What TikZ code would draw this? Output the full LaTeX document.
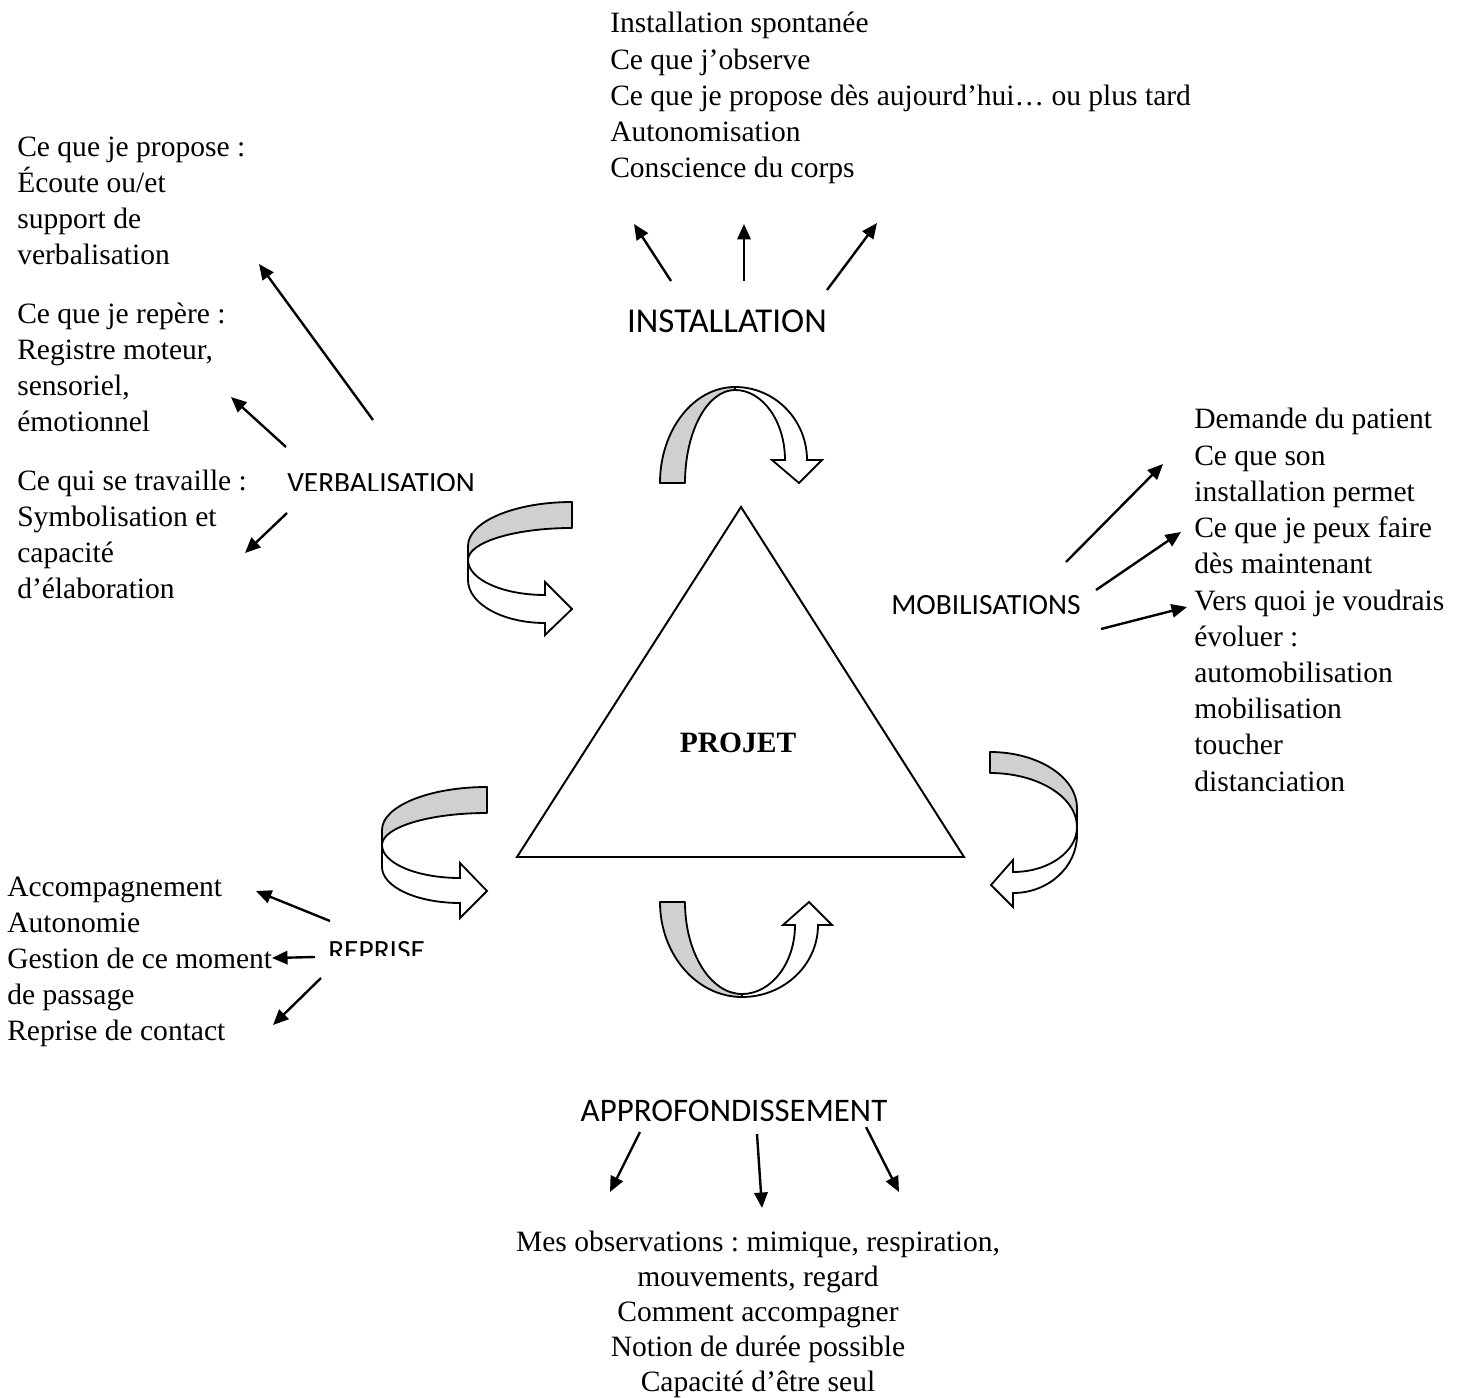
\documentclass[tikz,border=0pt]{standalone}
\usepackage{fontspec}
\setmainfont{Liberation Serif}
\newfontfamily\calibri{Carlito}
\usetikzlibrary{arrows.meta}
\definecolor{bandgray}{RGB}{208,208,208}
\frenchspacing
\begin{document}
\begin{tikzpicture}[x=0.025cm,y=-0.025cm,
  txt/.style={font=\fontsize{21}{25.2}\selectfont, inner sep=0pt, anchor=base west},
  ctxt/.style={txt, anchor=base},
  lbl/.style={font=\calibri\fontsize{22.8}{27}\selectfont, inner sep=0pt},
  lblsmall/.style={font=\calibri\fontsize{20.9}{25}\selectfont, inner sep=0pt},
  arr/.style={line width=1.7pt, -{Triangle[length=11pt,width=9.5pt]}},
  back/.style={fill=bandgray, draw=black, line width=1.3pt, line join=round},
  front/.style={fill=white, draw=black, line width=1.3pt, line join=miter}]
\useasboundingbox (0,0) rectangle (1462,1398);

% ---------- text blocks ----------
\foreach \t [count=\i] in {Installation spontanée, Ce que j’observe, Ce que je propose dès aujourd’hui… ou plus tard, Autonomisation, Conscience du corps}
  \node[txt] (top\i) at (610,{33+36.2*(\i-1)}) {\t};

\foreach \t [count=\i] in {Ce que je propose :, Écoute ou/et, support de, verbalisation}
  \node[txt] (va\i) at (17,{157+36*(\i-1)}) {\t};
\foreach \t [count=\i] in {Ce que je repère :, {Registre moteur,}, {sensoriel,}, émotionnel}
  \node[txt] (vb\i) at (17,{324+36*(\i-1)}) {\t};
\foreach \t [count=\i] in {Ce qui se travaille :, Symbolisation et, capacité, d’élaboration}
  \node[txt] (vc\i) at (17,{491+36*(\i-1)}) {\t};

\foreach \t [count=\i] in {Demande du patient, Ce que son, installation permet, Ce que je peux faire, dès maintenant, Vers quoi je voudrais, évoluer :, automobilisation, mobilisation, toucher, distanciation}
  \node[txt] (mo\i) at (1194,{429+36.2*(\i-1)}) {\t};

\foreach \t [count=\i] in {Accompagnement, Autonomie, Gestion de ce moment, de passage, Reprise de contact}
  \node[txt] (re\i) at (7,{896+36*(\i-1)}) {\t};

\foreach \t [count=\i] in {{Mes observations : mimique, respiration,}, {mouvements, regard}, Comment accompagner, Notion de durée possible, Capacité d’être seul}
  \node[ctxt] (ap\i) at (758,{1251+35.2*(\i-1)}) {\t};

% ---------- labels ----------
\node[lbl, font=\calibri\fontsize{24.8}{29}\selectfont, anchor=base] (inst) at (727,333) {INSTALLATION};
\begin{scope}
  \clip (270,455) rectangle (490,491);
  \node[lblsmall, anchor=base west] (verb) at (287,493) {VERBALISATION};
\end{scope}
\node[lblsmall, anchor=base west] (mobil) at (891,614) {MOBILISATIONS};
\begin{scope}
  \clip (318,925) rectangle (440,955);
  \node[lblsmall, anchor=base west] (repr) at (328,960) {REPRISE};
\end{scope}
\node[lbl, font=\calibri\fontsize{23.4}{28}\selectfont, anchor=base] (appro) at (734,1121) {APPROFONDISSEMENT};

% ---------- triangle ----------
\draw[line width=1.4pt, line join=miter] (741,507) -- (964,857) -- (517,857) -- cycle;
\node[font=\bfseries\fontsize{21}{25.2}\selectfont, inner sep=0pt, anchor=base] (projet) at (738,752) {PROJET};

% ---------- straight arrows ----------
\coordinate (i1s) at (671,281); \coordinate (i1e) at (634,224);
\coordinate (i2s) at (744,281); \coordinate (i2e) at (744,224);
\coordinate (i3s) at (827,290); \coordinate (i3e) at (877,223);
\draw[arr] (i1s) -- (i1e);
\draw[arr] (i2s) -- (i2e);
\draw[arr] (i3s) -- (i3e);

\coordinate (v1s) at (373,420); \coordinate (v1e) at (259,264);
\coordinate (v2s) at (286,447); \coordinate (v2e) at (231,397);
\coordinate (v3s) at (287,513); \coordinate (v3e) at (245,553);
\draw[arr] (v1s) -- (v1e);
\draw[arr] (v2s) -- (v2e);
\draw[arr] (v3s) -- (v3e);

\coordinate (m1s) at (1066,562); \coordinate (m1e) at (1163,464);
\coordinate (m2s) at (1096,590); \coordinate (m2e) at (1181,532);
\coordinate (m3s) at (1101,629); \coordinate (m3e) at (1187,607);
\draw[arr] (m1s) -- (m1e);
\draw[arr] (m2s) -- (m2e);
\draw[arr] (m3s) -- (m3e);

\coordinate (r1s) at (330,921); \coordinate (r1e) at (256,891);
\coordinate (r2s) at (315,957); \coordinate (r2e) at (272,958);
\coordinate (r3s) at (321,978); \coordinate (r3e) at (273,1025);
\draw[arr] (r1s) -- (r1e);
\draw[arr] (r2s) -- (r2e);
\draw[arr] (r3s) -- (r3e);

\coordinate (a1s) at (640,1132); \coordinate (a1e) at (610,1192);
\coordinate (a2s) at (757,1134); \coordinate (a2e) at (762,1208);
\coordinate (a3s) at (866,1127); \coordinate (a3e) at (899,1192);
\draw[arr] (a1s) -- (a1e);
\draw[arr] (a2s) -- (a2e);
\draw[arr] (a3s) -- (a3e);

% ---------- curved arrows ----------
% top
\draw[back] (660,483) arc[start angle=180, end angle=270, x radius=75, y radius=96]
  -- (735,390) arc[start angle=270, end angle=180, x radius=50, y radius=93] -- cycle;
\draw[front] (735,387) arc[start angle=270, end angle=360, x radius=72, y radius=73]
  -- (822,460) -- (799,483) -- (772,460) -- (785,460)
  arc[start angle=0, end angle=-90, x radius=50, y radius=70] -- cycle;
% bottom
\draw[back] (660,902) arc[start angle=180, end angle=90, x radius=82, y radius=95]
  -- (742,994) arc[start angle=90, end angle=180, x radius=57, y radius=92] -- cycle;
\draw[front] (742,997) arc[start angle=90, end angle=0, x radius=76, y radius=72]
  -- (832,925) -- (809,902) -- (783,925) -- (795,925)
  arc[start angle=0, end angle=90, x radius=53, y radius=69] -- cycle;
% left (verbalisation)
\draw[back] (572,502) arc[start angle=270, end angle=180, x radius=104, y radius=44]
  -- (468,560) arc[start angle=180, end angle=270, x radius=104, y radius=32] -- cycle;
\draw[front] (468,560) arc[start angle=180, end angle=90, x radius=77, y radius=35]
  -- (545,582) -- (572,609) -- (545,635) -- (545,623)
  arc[start angle=90, end angle=180, x radius=77, y radius=43] -- cycle;
% left bottom (reprise)
\draw[back] (487,787) arc[start angle=270, end angle=180, x radius=105, y radius=43]
  -- (382,845) arc[start angle=180, end angle=270, x radius=105, y radius=32] -- cycle;
\draw[front] (382,845) arc[start angle=180, end angle=90, x radius=78, y radius=33]
  -- (460,863) -- (487,891) -- (460,918) -- (460,903)
  arc[start angle=90, end angle=180, x radius=78, y radius=36] -- cycle;
% right
\draw[back] (990,752) arc[start angle=270, end angle=360, x radius=87, y radius=56]
  -- (1077,827) arc[start angle=0, end angle=-90, x radius=87, y radius=54] -- cycle;
\draw[front] (1077,827) arc[start angle=0, end angle=90, x radius=64, y radius=45]
  -- (1013,860) -- (991,885) -- (1013,907) -- (1013,893)
  arc[start angle=90, end angle=0, x radius=64, y radius=58] -- cycle;
\end{tikzpicture}
\end{document}
